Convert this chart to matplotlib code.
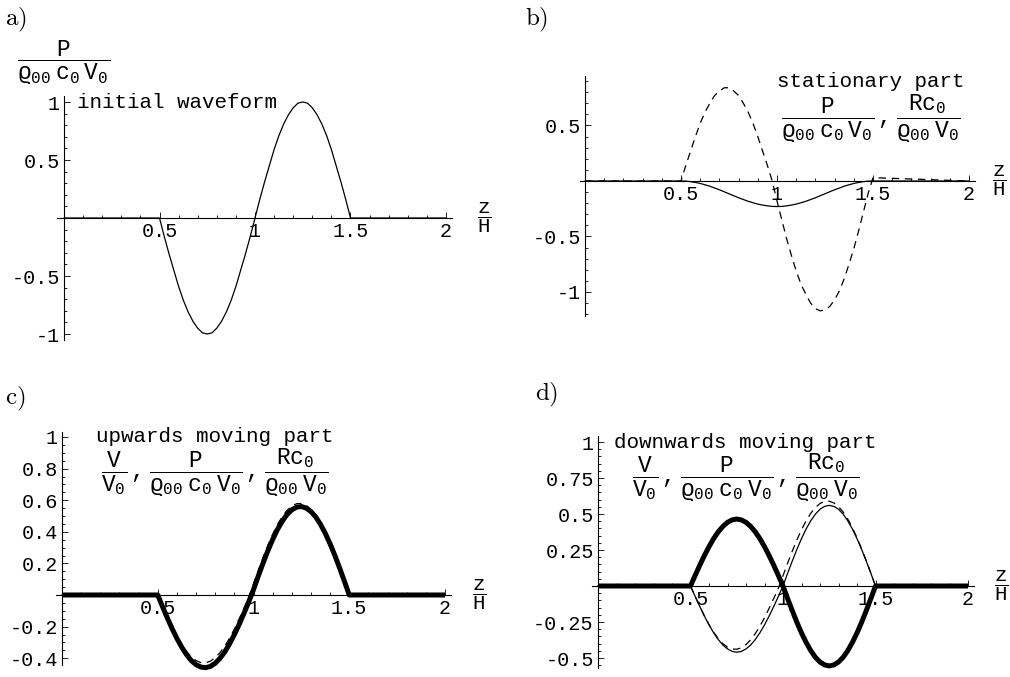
import numpy as np
import matplotlib
matplotlib.use("Agg")
import matplotlib.pyplot as plt
from matplotlib.ticker import MultipleLocator

plt.rcParams['font.family'] = 'Liberation Mono'
plt.rcParams['font.size'] = 14.5
plt.rcParams['mathtext.fontset'] = 'custom'
plt.rcParams['mathtext.rm'] = 'Liberation Mono'
plt.rcParams['mathtext.it'] = 'Liberation Mono'
plt.rcParams['mathtext.bf'] = 'Liberation Mono:bold'
plt.rcParams['mathtext.fallback'] = 'cm'

W, H = 1010, 677

# z/H sample points: 0, then 0.5 .. 1.5 every 0.025, then 2
z = [0.0] + [round(0.5 + 0.025 * k, 3) for k in range(41)] + [2.0]

# values at those z (first and last entry: z = 0 and z = 2)
# a) initial waveform
p_initial = [0,
             0, -0.16, -0.31, -0.45, -0.59, -0.71, -0.81, -0.89, -0.95, -0.99, -1.0,
             -0.99, -0.95, -0.89, -0.81, -0.71, -0.59, -0.45, -0.31, -0.16, 0,
             0.16, 0.31, 0.45, 0.59, 0.71, 0.81, 0.89, 0.95, 0.99, 1.0,
             0.99, 0.95, 0.89, 0.81, 0.71, 0.59, 0.45, 0.31, 0.16, 0,
             0]

# b) stationary part
p_stat = [0,
          0, -0.001, -0.006, -0.013, -0.022, -0.034, -0.047, -0.063, -0.079, -0.097, -0.115,
          -0.133, -0.151, -0.167, -0.183, -0.196, -0.208, -0.217, -0.224, -0.229, -0.23,
          -0.229, -0.224, -0.217, -0.208, -0.196, -0.183, -0.167, -0.151, -0.133, -0.115,
          -0.097, -0.079, -0.063, -0.047, -0.034, -0.022, -0.013, -0.006, -0.001, 0,
          0]
r_stat = [0,
          0, 0.14, 0.27, 0.40, 0.52, 0.62, 0.70, 0.77, 0.81, 0.84, 0.84,
          0.81, 0.77, 0.70, 0.62, 0.52, 0.40, 0.27, 0.14, 0, -0.18,
          -0.35, -0.52, -0.67, -0.81, -0.93, -1.02, -1.10, -1.15, -1.17, -1.16,
          -1.13, -1.07, -0.99, -0.88, -0.75, -0.61, -0.45, -0.28, -0.11, 0.03,
          0]

# c) upwards moving part
v_up = [0,
        0, -0.074, -0.145, -0.213, -0.275, -0.330, -0.377, -0.415, -0.441, -0.456, -0.46,
        -0.452, -0.432, -0.401, -0.360, -0.309, -0.251, -0.186, -0.117, -0.044, 0.034,
        0.120, 0.202, 0.280, 0.351, 0.414, 0.467, 0.509, 0.539, 0.556, 0.56,
        0.550, 0.528, 0.494, 0.447, 0.390, 0.324, 0.250, 0.170, 0.086, 0,
        0]
p_up = [0,
        0, -0.074, -0.145, -0.213, -0.275, -0.330, -0.377, -0.415, -0.441, -0.456, -0.46,
        -0.452, -0.432, -0.401, -0.360, -0.309, -0.251, -0.186, -0.117, -0.044, 0.034,
        0.120, 0.202, 0.280, 0.351, 0.414, 0.467, 0.509, 0.539, 0.556, 0.56,
        0.550, 0.528, 0.494, 0.447, 0.390, 0.324, 0.250, 0.170, 0.086, 0,
        0]
r_up = [0,
        0, -0.070, -0.138, -0.203, -0.262, -0.314, -0.357, -0.392, -0.415, -0.428, -0.429,
        -0.419, -0.397, -0.365, -0.323, -0.273, -0.215, -0.151, -0.084, -0.014, 0.070,
        0.156, 0.238, 0.315, 0.385, 0.446, 0.496, 0.536, 0.563, 0.578, 0.579,
        0.567, 0.542, 0.505, 0.457, 0.398, 0.329, 0.254, 0.172, 0.088, 0,
        0]

# d) downwards moving part
v_down = [0,
          0, 0.073, 0.144, 0.211, 0.273, 0.329, 0.376, 0.414, 0.442, 0.459, 0.465,
          0.459, 0.442, 0.414, 0.376, 0.329, 0.273, 0.211, 0.144, 0.073, 0,
          -0.087, -0.171, -0.252, -0.326, -0.392, -0.449, -0.495, -0.528, -0.548, -0.555,
          -0.548, -0.528, -0.495, -0.449, -0.392, -0.326, -0.252, -0.171, -0.087, 0,
          0]
p_down = [0,
          0, -0.072, -0.142, -0.209, -0.270, -0.325, -0.372, -0.410, -0.437, -0.454, -0.46,
          -0.454, -0.437, -0.410, -0.372, -0.325, -0.270, -0.209, -0.142, -0.072, 0,
          0.088, 0.173, 0.254, 0.329, 0.396, 0.453, 0.499, 0.533, 0.553, 0.56,
          0.553, 0.533, 0.499, 0.453, 0.396, 0.329, 0.254, 0.173, 0.088, 0,
          0]
r_down = [0,
          0, -0.072, -0.141, -0.207, -0.268, -0.321, -0.366, -0.401, -0.425, -0.438, -0.439,
          -0.429, -0.407, -0.374, -0.331, -0.279, -0.220, -0.155, -0.086, -0.015, 0.071,
          0.159, 0.242, 0.320, 0.391, 0.453, 0.505, 0.545, 0.573, 0.588, 0.589,
          0.577, 0.551, 0.514, 0.465, 0.405, 0.335, 0.258, 0.175, 0.089, 0,
          0]

x_ticks = [0.5, 1, 1.5, 2]
x_labels = ['0.5', '1', '1.5', '2']

fig = plt.figure(figsize=(W / 100, H / 100), dpi=100)


def make_panel(x0, sx, y0, sy, xlim, ylim, yticks, ylabels, yminor):
    # place axes so that data units land on the pixel positions of the reference
    left_px = x0 + xlim[0] * sx
    right_px = x0 + xlim[1] * sx
    top_px = y0 - ylim[1] * sy
    bot_px = y0 - ylim[0] * sy
    ax = fig.add_axes([left_px / W, 1 - bot_px / H,
                       (right_px - left_px) / W, (bot_px - top_px) / H])
    ax.set_xlim(xlim)
    ax.set_ylim(ylim)
    ax.patch.set_visible(False)
    ax.spines['top'].set_visible(False)
    ax.spines['right'].set_visible(False)
    ax.spines['left'].set_position(('data', 0))
    ax.spines['bottom'].set_position(('data', 0))
    ax.spines['left'].set_linewidth(0.8)
    ax.spines['bottom'].set_linewidth(0.8)
    ax.set_xticks(x_ticks, labels=x_labels)
    ax.xaxis.set_minor_locator(MultipleLocator(0.1))
    ax.set_yticks(yticks, labels=ylabels)
    ax.yaxis.set_minor_locator(MultipleLocator(yminor))
    ax.tick_params(which='both', direction='in', width=0.6)
    ax.tick_params(which='major', length=4, pad=3)
    ax.tick_params(which='minor', length=2.2)
    return ax


zh = r'$\dfrac{\mathrm{z}}{\mathrm{H}}$'
p_frac = r'\dfrac{\mathrm{P}}{\varrho_{00}\ \mathrm{c}_0\ \mathrm{V}_0}'
r_frac = r'\dfrac{\mathrm{Rc}_0}{\varrho_{00}\ \mathrm{V}_0}'
v_frac = r'\dfrac{\mathrm{V}}{\mathrm{V}_0}'
sep = r'\,,\,'
thin = dict(color='black', lw=0.9, clip_on=False)
dash = dict(color='black', lw=0.9, dashes=(6, 4.5), clip_on=False)
bold = dict(color='black', lw=3.6, clip_on=False, solid_capstyle='butt')
fsz = 15
ffr = 16.5

# a)
ax = make_panel(64, 191, 218, 116, (-0.035, 2.03), (-1.05, 1.05),
                [-1, -0.5, 0.5, 1], ['-1', '-0.5', '0.5', '1'], 0.1)
ax.plot(z, p_initial, **thin)
ax.text(0, 1.335, '$' + p_frac + '$', ha='center', va='center', fontsize=ffr)
ax.text(0.07, 1.0, 'initial waveform', ha='left', va='center', fontsize=fsz)
ax.text(2.2, 0, zh, ha='center', va='center', fontsize=fsz)
fig.text(5 / W, 1 - 20 / H, r'$\mathrm{a)}$', math_fontfamily='cm', fontsize=18,
         ha='left', va='center')

# b)
ax = make_panel(585, 192, 181, 111, (-0.026, 2.03), (-1.22, 0.95),
                [-1, -0.5, 0.5], ['-1', '-0.5', '0.5'], 0.1)
ax.plot(z, p_stat, **thin)
ax.plot(z, r_stat, **dash)
ax.text(1.49, 0.9, 'stationary part', ha='center', va='center', fontsize=fsz)
ax.text(1.49, 0.79, '$' + p_frac + sep + r_frac + '$', ha='center', va='top',
        fontsize=ffr)
ax.text(2.16, 0, zh, ha='center', va='center', fontsize=fsz)
fig.text(525 / W, 1 - 20 / H, r'$\mathrm{b)}$', math_fontfamily='cm', fontsize=18,
         ha='left', va='center')

# c)
ax = make_panel(62, 191.5, 595, 158, (-0.03, 2.03), (-0.44, 1.03),
                [-0.4, -0.2, 0.2, 0.4, 0.6, 0.8, 1],
                ['-0.4', '-0.2', '0.2', '0.4', '0.6', '0.8', '1'], 0.05)
ax.plot(z, p_up, **thin)
ax.plot(z, r_up, **dash)
ax.plot(z, v_up, **bold)
ax.text(0.8, 1.0, 'upwards moving part', ha='center', va='center', fontsize=fsz)
ax.text(0.8, 0.935, '$' + v_frac + sep + p_frac + sep + r_frac + '$',
        ha='center', va='top', fontsize=ffr)
ax.text(2.18, 0, zh, ha='center', va='center', fontsize=fsz)
fig.text(5 / W, 1 - 399 / H, r'$\mathrm{c)}$', math_fontfamily='cm', fontsize=18,
         ha='left', va='center')

# d)
ax = make_panel(598, 185, 586, 144, (-0.03, 2.03), (-0.57, 1.04),
                [-0.5, -0.25, 0.25, 0.5, 0.75, 1],
                ['-0.5', '-0.25', '0.25', '0.5', '0.75', '1'], 0.05)
ax.plot(z, p_down, **thin)
ax.plot(z, r_down, **dash)
ax.plot(z, v_down, **bold)
ax.text(0.795, 1.0, 'downwards moving part', ha='center', va='center', fontsize=fsz)
ax.text(0.8, 0.93, '$' + v_frac + sep + p_frac + sep + r_frac + '$',
        ha='center', va='top', fontsize=ffr)
ax.text(2.18, 0, zh, ha='center', va='center', fontsize=fsz)
fig.text(535 / W, 1 - 395 / H, r'$\mathrm{d)}$', math_fontfamily='cm', fontsize=18,
         ha='left', va='center')

fig.savefig('out.png', dpi=100)
